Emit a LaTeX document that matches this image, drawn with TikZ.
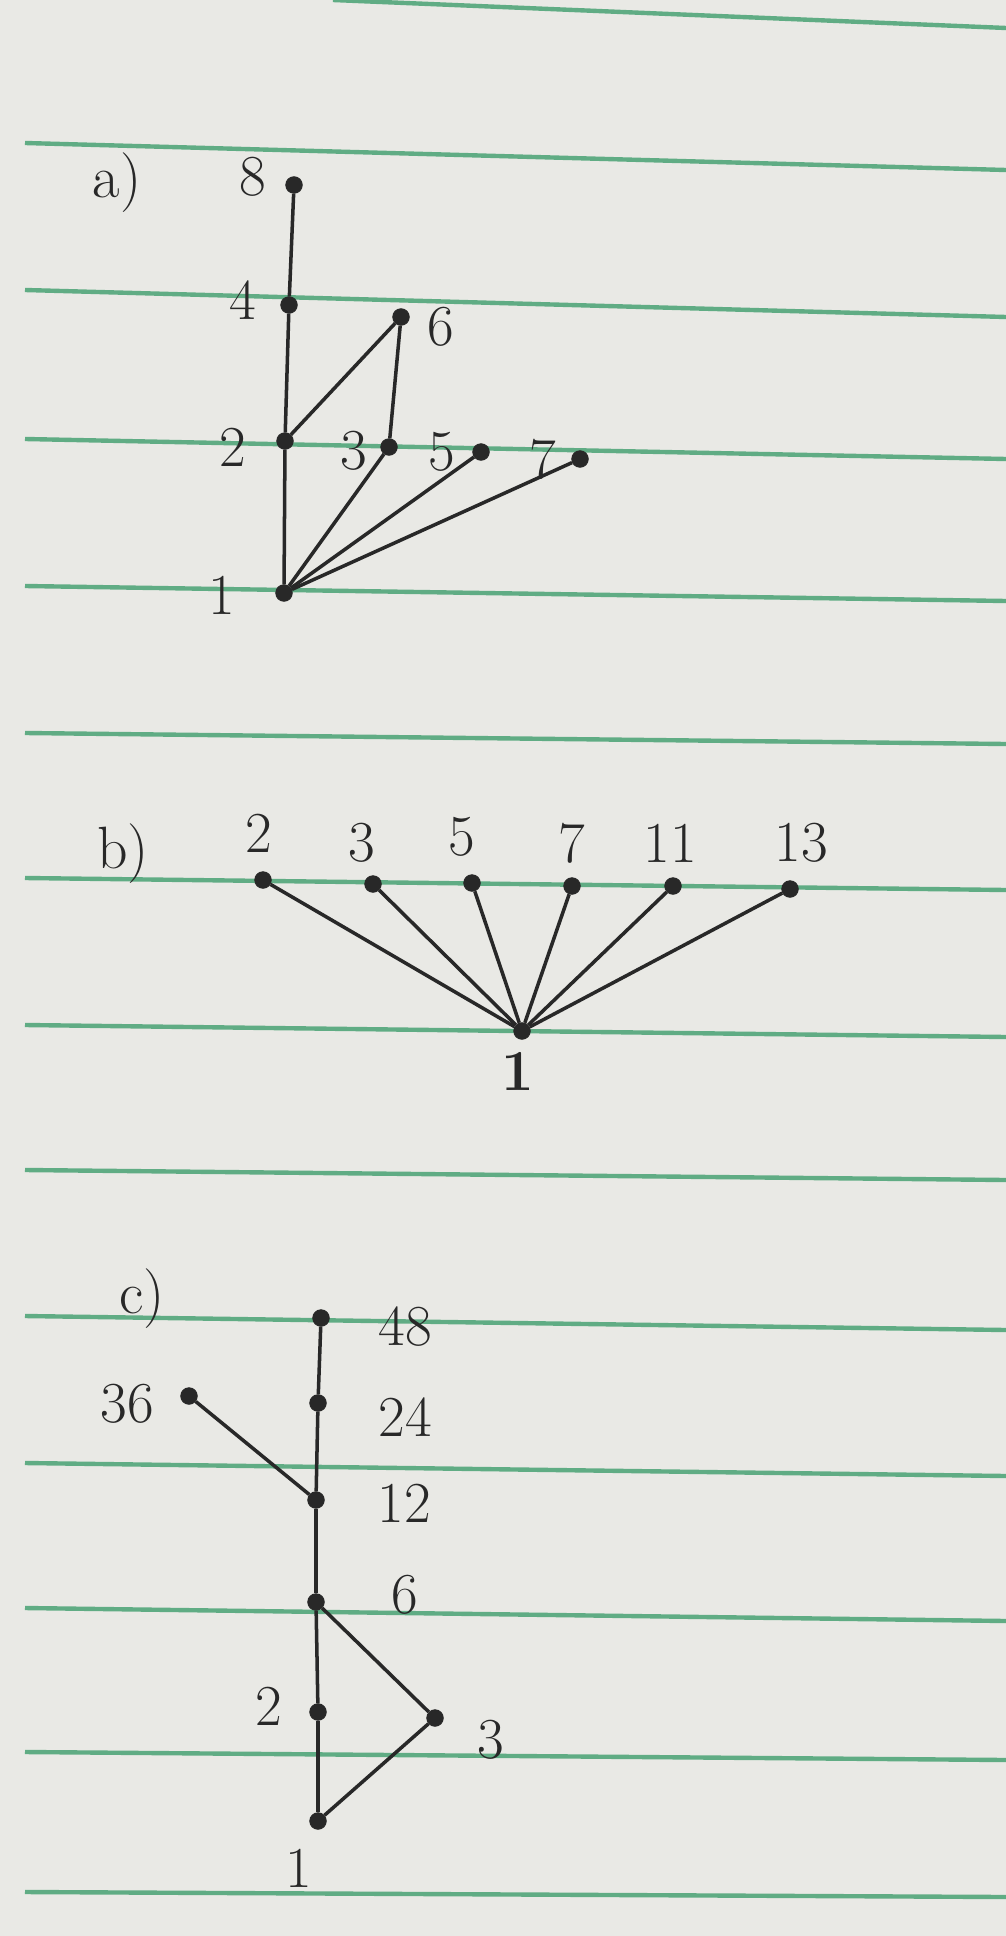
\documentclass[tikz,border=0pt]{standalone}
\usepackage{tikz}
\usetikzlibrary{positioning}
\definecolor{paper}{RGB}{233,233,229}
\definecolor{ruling}{RGB}{96,172,132}
\definecolor{ink}{RGB}{40,40,40}
\tikzset{
  vtx/.style={circle,fill=ink,draw=ink,inner sep=0pt,minimum size=9.5pt},
  lbl/.style={text=ink,font=\fontsize{33}{37}\selectfont},
  part/.style={text=ink,font=\fontsize{34}{38}\selectfont},
  edge/.style={draw=ink,line width=2pt}
}
\begin{document}
\begin{tikzpicture}[x=0.02cm,y=-0.02cm]
        \useasboundingbox (0,0) rectangle (1006,1936);
        \fill[paper] (0,0) rectangle (1006,1936);
        % Ruling
        \draw[ruling,line width=2.5pt] (333,0) -- (1006,28);
        \foreach \ya/\yb in {143/170,290/317,439/459,586/601,733/744,878/890,1025/1037,1170/1180,1316/1330,1463/1476,1608/1621,1752/1760,1892/1897}
          \draw[ruling,line width=2.5pt] (25,\ya) -- (1006,\yb);
        % a)
        \node(parta) at (117,183)[part] {a)};
        \node(a8) at (294,185)[vtx] {};
        \node(a4) at (289,305)[vtx] {};
        \node(a6) at (401,317)[vtx] {};
        \node(a2) at (285,441)[vtx] {};
        \node(a3) at (389,447)[vtx] {};
        \node(a5) at (481,452)[vtx] {};
        \node(a7) at (580,459)[vtx] {};
        \node(a1) at (284,593)[vtx] {};
        \node(a8t) at (253,177)[lbl] {8};
        \node(a4t) at (243,300)[lbl] {4};
        \node(a6t) at (441,327)[lbl] {6};
        \node(a2t) at (233,447)[lbl] {2};
        \node(a3t) at (354,451)[lbl] {3};
        \node(a5t) at (442,452)[lbl] {5};
        \node(a7t) at (543,459)[lbl] {7};
        \node(a1t) at (222,595)[lbl] {1};
        \draw[edge] (a8) -- (a4);
        \draw[edge] (a4) -- (a2);
        \draw[edge] (a2) -- (a6);
        \draw[edge] (a6) -- (a3);
        \draw[edge] (a2) -- (a1);
        \draw[edge] (a3) -- (a1);
        \draw[edge] (a5) -- (a1);
        \draw[edge] (a7) -- (a1);
        % b)
        \node(partb) at (123,854)[part] {b)};
        \node(b2) at (263,880)[vtx] {};
        \node(b3) at (373,884)[vtx] {};
        \node(b5) at (472,883)[vtx] {};
        \node(b7) at (572,886)[vtx] {};
        \node(b11) at (673,886)[vtx] {};
        \node(b13) at (790,889)[vtx] {};
        \node(b1) at (522,1031)[vtx] {};
        \node(b2t) at (259,833)[lbl] {2};
        \node(b3t) at (362,843)[lbl] {3};
        \node(b5t) at (462,837)[lbl] {5};
        \node(b7t) at (572,843)[lbl] {7};
        \node(b11t) at (670,843)[lbl] {11};
        \node(b13t) at (801,843)[lbl] {13};
        \node(b1t) at (518,1071)[lbl] {\textbf{1}};
        \foreach \t in {2,3,5,7,11,13}
          \draw[edge] (b\t) -- (b1);
        % c)
        \node(partc) at (142,1299)[part] {c)};
        \node(c48) at (321,1318)[vtx] {};
        \node(c24) at (318,1403)[vtx] {};
        \node(c36) at (189,1396)[vtx] {};
        \node(c12) at (316,1500)[vtx] {};
        \node(c6) at (316,1602)[vtx] {};
        \node(c2) at (318,1712)[vtx] {};
        \node(c3) at (435,1718)[vtx] {};
        \node(c1) at (318,1821)[vtx] {};
        \node(c48t) at (405,1327)[lbl] {48};
        \node(c24t) at (405,1417)[lbl] {24};
        \node(c36t) at (127,1404)[lbl] {36};
        \node(c12t) at (404,1503)[lbl] {12};
        \node(c6t) at (405,1595)[lbl] {6};
        \node(c2t) at (269,1706)[lbl] {2};
        \node(c3t) at (491,1740)[lbl] {3};
        \node(c1t) at (299,1868)[lbl] {1};
        \draw[edge] (c48) -- (c24);
        \draw[edge] (c24) -- (c12);
        \draw[edge] (c36) -- (c12);
        \draw[edge] (c12) -- (c6);
        \draw[edge] (c6) -- (c2);
        \draw[edge] (c2) -- (c1);
        \draw[edge] (c6) -- (c3);
        \draw[edge] (c3) -- (c1);
\end{tikzpicture}
\end{document}
